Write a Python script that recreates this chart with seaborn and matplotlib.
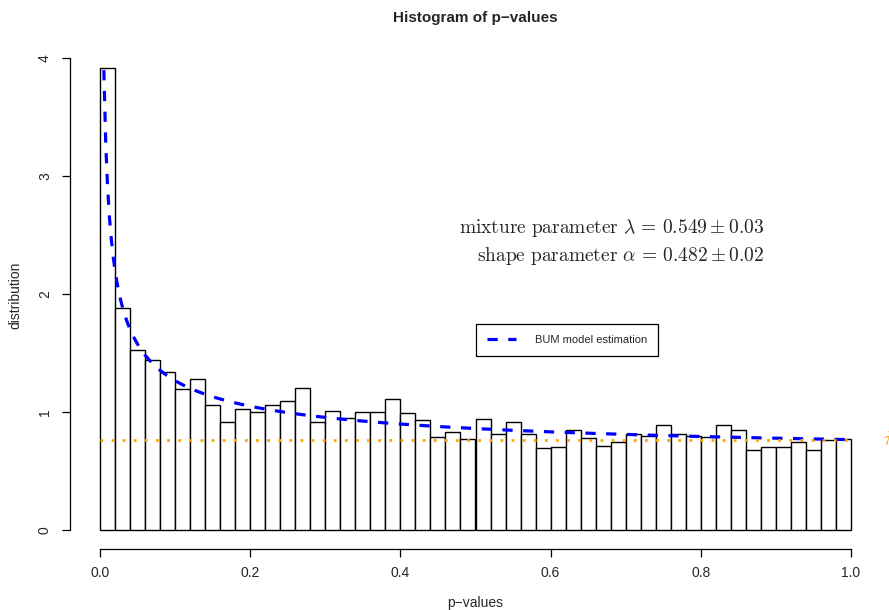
import numpy as np
import pandas as pd
import matplotlib
matplotlib.use("Agg")
import matplotlib.pyplot as plt
import seaborn as sns

# ---- data ----
bin_edges = [round(i * 0.02, 2) for i in range(51)]
bar_heights = [3.915, 1.881, 1.525, 1.443, 1.339, 1.198, 1.277, 1.062, 0.918, 1.023,
               1.003, 1.062, 1.093, 1.203, 0.912, 1.008, 0.952, 0.997, 0.997, 1.107,
               0.989, 0.932, 0.791, 0.831, 0.771, 0.938, 0.811, 0.912, 0.816, 0.692,
               0.706, 0.850, 0.777, 0.712, 0.746, 0.816, 0.797, 0.887, 0.811, 0.797,
               0.785, 0.887, 0.846, 0.681, 0.701, 0.701, 0.746, 0.681, 0.760, 0.774]
lam = 0.549      # mixture parameter
lam_se = 0.03
alpha = 0.482    # shape parameter
alpha_se = 0.02
x_ticks = [0.0, 0.2, 0.4, 0.6, 0.8, 1.0]
y_ticks = [0, 1, 2, 3, 4]

# BUM model density from the stated parameters
p_grid = np.linspace(0.0051, 1.0, 400)
bum = lam + (1 - lam) * alpha * p_grid ** (alpha - 1)
pi_hat = lam + (1 - lam) * alpha

edges = np.array(bin_edges)
centers = (edges[:-1] + edges[1:]) / 2
df = pd.DataFrame({"p": centers, "w": bar_heights})
curve = pd.DataFrame({"p": p_grid, "f": bum})

sns.set_style("ticks")
plt.rcParams["font.family"] = ["Liberation Sans", "DejaVu Sans"]
plt.rcParams["mathtext.fontset"] = "cm"

W, H = 889, 610
fig = plt.figure(figsize=(W / 100, H / 100), dpi=100)
ax = fig.add_axes([70 / W, 1 - 549 / H, (881 - 70) / W, (549 - 39) / H])

sns.histplot(data=df, x="p", weights="w", bins=bin_edges, stat="count",
             color="white", edgecolor="black", linewidth=1.0, alpha=1.0, ax=ax)
for patch in ax.patches:
    patch.set_facecolor("white")

sns.lineplot(data=curve, x="p", y="f", color="#0000FF", linewidth=2.3,
             ax=ax, zorder=4)
bum_line = ax.lines[-1]
bum_line.set_linestyle((0, (3.2, 3.3)))
bum_line.set_dash_capstyle("butt")

ax.plot([0, 1], [pi_hat, pi_hat], color="#FFA500", linewidth=2.0,
        linestyle=(0, (1, 3.0)), zorder=5)

ax.set_xlim(-0.04, 1.04)
ax.set_ylim(-0.16, 4.16)
ax.set_xticks(x_ticks)
ax.set_xticklabels([f"{v:.1f}" for v in x_ticks])
ax.set_yticks(y_ticks)
ax.set_yticklabels([str(v) for v in y_ticks], rotation=90, va="center")
for s in ["top", "right"]:
    ax.spines[s].set_visible(False)
ax.spines["left"].set_bounds(0, 4)
ax.spines["bottom"].set_bounds(0, 1)
for s in ["left", "bottom"]:
    ax.spines[s].set_linewidth(0.9)
    ax.spines[s].set_color("black")
ax.tick_params(axis="both", length=6, width=0.9, labelsize=10, color="black")
ax.tick_params(axis="x", pad=6)
ax.tick_params(axis="y", pad=7)

ax.set_xlabel("")
ax.set_ylabel("")
fig.text(475 / W, 1 - 603 / H, "p\u2212values", ha="center", va="center", fontsize=10)
fig.text(15 / W, 1 - 295 / H, "distribution", ha="center", va="center",
         rotation=90, fontsize=10)
fig.text(475 / W, 1 - 18 / H, "Histogram of p\u2212values", ha="center", va="center",
         fontsize=11, fontweight="bold")

fig.text(764 / W, 1 - 228 / H,
         r"$\mathrm{mixture\ parameter}\ \lambda\,=\,%.3f\pm%.2f$" % (lam, lam_se),
         ha="right", va="center", fontsize=14)
fig.text(764 / W, 1 - 256 / H,
         r"$\mathrm{shape\ parameter}\ \alpha\,=\,%.3f\pm%.2f$" % (alpha, alpha_se),
         ha="right", va="center", fontsize=14)

fig.text(883 / W, 1 - 440 / H, r"$\hat{\pi}$", color="#FFA500", ha="left",
         va="center", fontsize=14)

leg = ax.legend(handles=[bum_line], labels=["BUM model estimation"],
                loc="upper left", bbox_to_anchor=(476 / W, 1 - 324 / H),
                bbox_transform=fig.transFigure, borderaxespad=0, fontsize=8,
                frameon=True, fancybox=False, framealpha=1, edgecolor="black",
                handlelength=2.6, handletextpad=1.7, borderpad=1.0)
leg.get_frame().set_linewidth(0.9)

fig.savefig("out.png", dpi=100)
